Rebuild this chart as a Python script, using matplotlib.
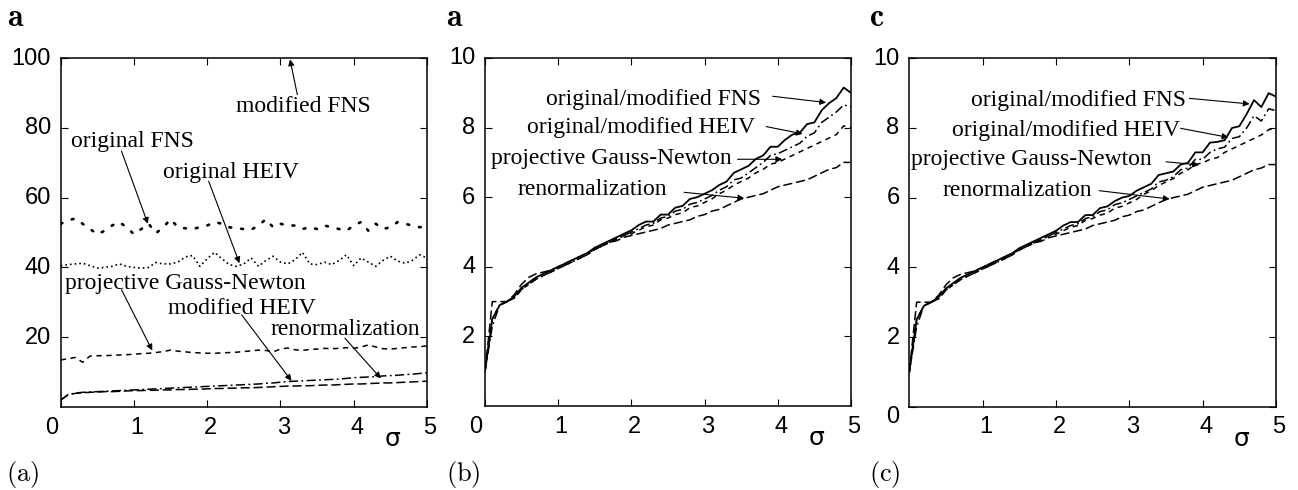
import numpy as np
import matplotlib
matplotlib.use("Agg")
import matplotlib.pyplot as plt
import matplotlib.transforms as mtrans

plt.rcParams['mathtext.fontset'] = 'cm'

# ---------------- data ----------------
sigma = np.linspace(0, 5, 51)

# panel (a)
a_fns_orig = [52.5, 53.5, 54.0, 52.5, 51.0, 49.5, 50.5, 52.0, 53.0, 51.5,
              49.5, 51.0, 52.5, 49.8, 51.5, 53.8, 51.5, 51.2, 51.0, 51.5,
              52.0, 53.0, 52.5, 51.5, 51.2, 51.0, 50.8, 52.0, 53.8, 51.5,
              52.5, 52.0, 52.0, 51.0, 51.5, 51.0, 52.0, 51.5, 51.0, 50.5,
              52.0, 53.0, 50.5, 52.5, 51.0, 51.5, 53.0, 52.5, 52.0, 51.5, 51.8]
a_heiv_orig = [40.5, 40.8, 41.0, 41.2, 40.5, 39.8, 40.0, 40.3, 41.0, 40.3,
               40.0, 39.8, 40.0, 41.4, 41.0, 41.0, 41.5, 43.0, 43.4, 40.3,
               42.5, 44.3, 42.5, 40.8, 40.3, 41.0, 42.7, 40.3, 42.0, 43.2,
               41.5, 41.0, 42.2, 44.3, 41.0, 40.8, 41.5, 40.8, 42.0, 43.6,
               40.5, 42.7, 41.5, 40.3, 42.0, 43.2, 41.8, 41.2, 42.0, 43.6, 42.7]
a_gn = [13.5, 13.8, 14.2, 12.8, 14.6, 14.7, 14.7, 14.8, 14.9, 15.0,
        15.1, 15.3, 15.4, 15.6, 15.9, 16.3, 16.0, 15.8, 15.6, 15.5,
        15.4, 15.4, 15.5, 15.6, 15.7, 15.9, 16.1, 16.3, 16.2, 15.8,
        16.6, 16.9, 16.4, 16.2, 16.5, 16.6, 16.8, 16.7, 16.8, 17.0,
        16.8, 17.2, 17.8, 17.2, 16.7, 16.6, 16.8, 17.0, 17.2, 17.3, 17.5]
a_heiv_mod = [2.0, 3.5, 4.0, 4.2, 4.3, 4.4, 4.5, 4.6, 4.7, 4.8,
              4.9, 5.0, 5.1, 5.2, 5.3, 5.4, 5.5, 5.6, 5.7, 5.8,
              5.9, 6.0, 6.1, 6.2, 6.3, 6.4, 6.5, 6.6, 6.8, 6.9,
              7.1, 7.3, 7.4, 7.5, 7.6, 7.7, 7.8, 7.9, 8.0, 8.2,
              8.4, 8.5, 8.6, 8.7, 8.9, 9.0, 9.1, 9.3, 9.4, 9.6, 9.8]
a_renorm = [2.0, 3.5, 3.9, 4.1, 4.2, 4.3, 4.4, 4.4, 4.5, 4.6,
            4.7, 4.7, 4.8, 4.8, 4.9, 4.9, 5.0, 5.0, 5.1, 5.1,
            5.2, 5.3, 5.3, 5.4, 5.4, 5.5, 5.5, 5.6, 5.7, 5.8,
            5.9, 6.0, 6.0, 6.1, 6.1, 6.2, 6.3, 6.3, 6.4, 6.5,
            6.6, 6.6, 6.7, 6.8, 6.9, 6.9, 7.0, 7.1, 7.2, 7.3, 7.4]

# panel (b)
b_fns = [1.0, 2.5, 2.9, 3.0, 3.15, 3.4, 3.55, 3.7, 3.8, 3.9,
         4.0, 4.1, 4.2, 4.3, 4.4, 4.55, 4.65, 4.75, 4.85, 4.95,
         5.05, 5.2, 5.3, 5.3, 5.5, 5.5, 5.7, 5.75, 5.95, 6.0,
         6.1, 6.2, 6.35, 6.45, 6.7, 6.8, 6.9, 7.1, 7.2, 7.45,
         7.45, 7.65, 7.8, 7.85, 8.1, 8.15, 8.5, 8.7, 8.85, 9.15, 9.0]
b_heiv = [1.0, 2.3, 2.9, 3.0, 3.1, 3.35, 3.5, 3.65, 3.75, 3.85,
          3.95, 4.05, 4.15, 4.25, 4.35, 4.5, 4.6, 4.7, 4.8, 4.9,
          5.0, 5.1, 5.2, 5.25, 5.4, 5.45, 5.6, 5.65, 5.8, 5.85,
          5.95, 6.05, 6.2, 6.3, 6.5, 6.55, 6.7, 6.85, 7.0, 7.2,
          7.25, 7.35, 7.45, 7.55, 7.75, 7.85, 8.15, 8.3, 8.45, 8.65, 8.6]
b_gn = [1.0, 2.5, 2.9, 3.0, 3.1, 3.35, 3.5, 3.65, 3.75, 3.85,
        3.95, 4.05, 4.15, 4.25, 4.35, 4.5, 4.6, 4.7, 4.8, 4.9,
        4.95, 5.05, 5.15, 5.2, 5.35, 5.4, 5.5, 5.55, 5.7, 5.75,
        5.85, 5.95, 6.1, 6.2, 6.35, 6.45, 6.55, 6.7, 6.8, 6.95,
        7.0, 7.1, 7.2, 7.3, 7.4, 7.5, 7.6, 7.7, 7.8, 8.05, 8.0]
b_renorm = [1.0, 3.0, 3.0, 3.0, 3.2, 3.5, 3.7, 3.8, 3.85, 3.9,
            4.0, 4.1, 4.2, 4.3, 4.4, 4.5, 4.6, 4.7, 4.75, 4.85,
            4.9, 4.95, 5.0, 5.05, 5.1, 5.2, 5.25, 5.3, 5.35, 5.45,
            5.5, 5.6, 5.65, 5.75, 5.85, 5.95, 6.0, 6.05, 6.1, 6.2,
            6.3, 6.35, 6.4, 6.45, 6.5, 6.6, 6.7, 6.8, 6.85, 7.0, 7.0]

# panel (c)
c_fns = [1.0, 2.5, 2.9, 3.0, 3.15, 3.4, 3.55, 3.7, 3.8, 3.9,
         4.0, 4.1, 4.2, 4.3, 4.4, 4.55, 4.65, 4.75, 4.85, 4.95,
         5.05, 5.2, 5.3, 5.3, 5.5, 5.5, 5.7, 5.75, 5.9, 6.0,
         6.05, 6.2, 6.3, 6.4, 6.65, 6.7, 6.75, 6.95, 7.0, 7.3,
         7.3, 7.58, 7.6, 7.65, 8.0, 8.05, 8.4, 8.8, 8.6, 9.0, 8.9]
c_heiv = [1.0, 2.3, 2.9, 3.0, 3.1, 3.35, 3.5, 3.65, 3.75, 3.85,
          3.95, 4.05, 4.15, 4.25, 4.35, 4.5, 4.6, 4.7, 4.8, 4.9,
          5.0, 5.1, 5.2, 5.25, 5.4, 5.45, 5.6, 5.65, 5.8, 5.85,
          5.95, 6.05, 6.15, 6.25, 6.45, 6.5, 6.6, 6.8, 6.85, 7.1,
          7.1, 7.3, 7.4, 7.45, 7.7, 7.75, 8.0, 8.35, 8.2, 8.55, 8.5]
c_gn = [1.0, 2.5, 2.9, 3.0, 3.1, 3.35, 3.5, 3.65, 3.75, 3.85,
        3.95, 4.05, 4.15, 4.25, 4.35, 4.5, 4.6, 4.7, 4.8, 4.9,
        4.95, 5.05, 5.15, 5.2, 5.35, 5.4, 5.5, 5.55, 5.7, 5.75,
        5.85, 5.95, 6.1, 6.2, 6.35, 6.45, 6.55, 6.7, 6.8, 6.95,
        7.0, 7.1, 7.15, 7.3, 7.4, 7.5, 7.6, 7.7, 7.8, 7.95, 8.0]
c_renorm = [1.0, 3.0, 3.0, 3.0, 3.2, 3.5, 3.7, 3.8, 3.85, 3.9,
            4.0, 4.1, 4.2, 4.3, 4.4, 4.5, 4.6, 4.7, 4.75, 4.85,
            4.9, 4.95, 5.0, 5.05, 5.1, 5.2, 5.25, 5.3, 5.35, 5.45,
            5.5, 5.6, 5.65, 5.75, 5.85, 5.95, 6.0, 6.05, 6.1, 6.2,
            6.3, 6.35, 6.4, 6.45, 6.5, 6.6, 6.7, 6.8, 6.85, 6.95, 6.95]

a_yticks = [20, 40, 60, 80, 100]
a_xticks = [0, 1, 2, 3, 4, 5]
b_yticks = [2, 4, 6, 8, 10]
b_xticks = [0, 1, 2, 3, 4, 5]
c_yticks = [0, 2, 4, 6, 8, 10]
c_xticks = [1, 2, 3, 4, 5]

# ---------------- styles ----------------
TICKFONT = dict(family='Liberation Sans', size=17)
ANNFONT = dict(family='Liberation Serif', size=17)
ARROW = dict(arrowstyle='-|>', lw=0.8, color='black', mutation_scale=9,
             shrinkA=0, shrinkB=0)

S_DOT_BIG = dict(color='black', lw=1.9, ls=(0, (0.7, 3.8)), dash_capstyle='round')
S_DOT_FINE = dict(color='black', lw=1.2, ls=(0, (1, 1.8)))
S_SHORTDASH = dict(color='black', lw=1.1, ls=(0, (3.5, 3.0)))
S_LONGDASH = dict(color='black', lw=1.1, ls=(0, (6, 2.5)))
S_DASHDOT = dict(color='black', lw=1.1, ls=(0, (6, 2.2, 1.2, 2.2)))
S_SOLID = dict(color='black', lw=1.3, ls='-')

W, H = 1298, 490
fig = plt.figure(figsize=(W / 100, H / 100), dpi=100)


def shift(label, dx_px, dy_px):
    label.set_transform(label.get_transform() +
                        mtrans.ScaledTranslation(dx_px / 100, dy_px / 100,
                                                 fig.dpi_scale_trans))


def make_axes(left_px, right_px, top_px, bottom_px):
    return fig.add_axes([left_px / W, 1 - bottom_px / H,
                         (right_px - left_px) / W, (bottom_px - top_px) / H])


def style_axes(ax, ymax, xticks, yticks):
    ax.set_xlim(0, 5)
    ax.set_ylim(0, ymax)
    ax.set_xticks(xticks)
    ax.set_yticks(yticks)
    ax.set_xticklabels([str(t) for t in xticks], **TICKFONT)
    ax.set_yticklabels([str(t) for t in yticks], **TICKFONT)
    ax.tick_params(direction='in', top=True, right=True, length=5, width=0.8,
                   pad=7)
    for s in ax.spines.values():
        s.set_linewidth(1.1)
    for t, lab in zip(xticks, ax.get_xticklabels()):
        shift(lab, -9 if t == 0 else 3, 0)
    for t, lab in zip(yticks, ax.get_yticklabels()):
        shift(lab, 0, -8 if t == 0 else 2)
    ax.text(0.905, -0.092, 'σ', transform=ax.transAxes, ha='center',
            va='center', family='DejaVu Sans', size=18)


def note(ax, text, tx, ty, sx, sy, px, py):
    ax.text(tx, ty, text, ha='left', va='center', **ANNFONT)
    ax.annotate('', xy=(px, py), xytext=(sx, sy), arrowprops=ARROW,
                annotation_clip=False)


# ---------------- panel (a) ----------------
axa = make_axes(60.7, 427, 58, 407)
axa.plot(sigma, a_fns_orig, **S_DOT_BIG)
axa.plot(sigma, a_heiv_orig, **S_DOT_FINE)
axa.plot(sigma, a_gn, **S_SHORTDASH)
axa.plot(sigma, a_renorm, **S_LONGDASH)
axa.plot(sigma, a_heiv_mod, **S_DASHDOT)
style_axes(axa, 100, a_xticks, a_yticks)
note(axa, 'modified FNS', 2.39, 86.2, 3.23, 89.5, 3.13, 99.6)
note(axa, 'original FNS', 0.14, 76.2, 0.83, 73.3, 1.19, 52.5)
note(axa, 'original HEIV', 1.40, 67.3, 2.02, 64.7, 2.44, 41.2)
note(axa, 'projective Gauss-Newton', 0.06, 35.5, 0.83, 33.6, 1.25, 16.2)
note(axa, 'modified HEIV', 1.47, 28.3, 2.47, 26.4, 3.15, 7.5)
note(axa, 'renormalization', 2.86, 22.1, 3.88, 19.7, 4.37, 8.2)

# ---------------- panel (b) ----------------
axb = make_axes(485, 851, 58, 406)
axb.plot(sigma, b_renorm, **S_LONGDASH)
axb.plot(sigma, b_gn, **S_SHORTDASH)
axb.plot(sigma, b_heiv, **S_DASHDOT)
axb.plot(sigma, b_fns, **S_SOLID)
style_axes(axb, 10, b_xticks, b_yticks)
note(axb, 'original/modified FNS', 0.83, 8.82, 3.93, 8.9, 4.66, 8.72)
note(axb, 'original/modified HEIV', 0.58, 7.99, 3.84, 8.03, 4.34, 7.82)
note(axb, 'projective Gauss-Newton', 0.08, 7.12, 3.45, 7.09, 4.06, 7.09)
note(axb, 'renormalization', 0.45, 6.23, 2.72, 6.14, 3.54, 5.97)

# ---------------- panel (c) ----------------
axc = make_axes(909.3, 1276, 58.3, 406.7)
axc.plot(sigma, c_renorm, **S_LONGDASH)
axc.plot(sigma, c_gn, **S_SHORTDASH)
axc.plot(sigma, c_heiv, **S_DASHDOT)
axc.plot(sigma, c_fns, **S_SOLID)
style_axes(axc, 10, c_xticks, c_yticks)
note(axc, 'original/modified FNS', 0.84, 8.8, 3.82, 8.85, 4.64, 8.69)
note(axc, 'original/modified HEIV', 0.58, 7.94, 3.70, 7.99, 4.35, 7.73)
note(axc, 'projective Gauss-Newton', 0.02, 7.1, 3.50, 7.03, 3.95, 6.94)
note(axc, 'renormalization', 0.45, 6.2, 2.59, 6.2, 3.55, 5.96)

# ---------------- panel letters and captions ----------------
for xpx, letter in [(7, 'a'), (446, 'a'), (869, 'c')]:
    fig.text(xpx / W, 1 - 17 / H, r'$\mathbf{%s}$' % letter, ha='left',
             va='center', size=23)
for xpx, cap in [(6, '(a)'), (446, '(b)'), (869, '(c)')]:
    fig.text(xpx / W, 1 - 474 / H, r'$\mathrm{%s}$' % cap, ha='left',
             va='center', size=19)

fig.savefig('out.png', dpi=100)
